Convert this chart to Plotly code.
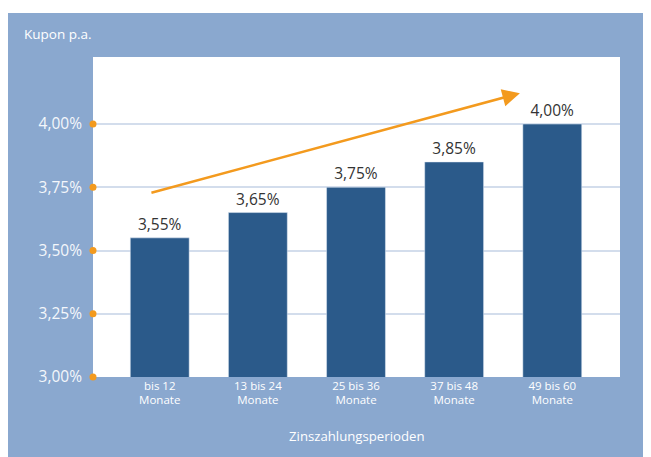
import plotly.graph_objects as go

categories = ["bis 12<br>Monate", "13 bis 24<br>Monate", "25 bis 36<br>Monate", "37 bis 48<br>Monate", "49 bis 60<br>Monate"]
kupon = [3.55, 3.65, 3.75, 3.85, 4.00]
bar_labels = ["3,55%", "3,65%", "3,75%", "3,85%", "4,00%"]
y_ticks = [3.00, 3.25, 3.50, 3.75, 4.00]
y_tick_labels = ["3,00%", "3,25%", "3,50%", "3,75%", "4,00%"]

BLUE_BG = "#8aa8cf"
BAR = "#2b5a8a"
ORANGE = "#f39a1e"
FONT = "Open Sans"

x_idx = list(range(len(categories)))
x_left = -0.68
x_right = 4.69

fig = go.Figure()
fig.add_trace(go.Bar(
    x=x_idx, y=kupon, width=0.6, marker_color=BAR,
    text=bar_labels, textposition="outside",
    textfont=dict(color="#333333", size=15.5, family=FONT),
    cliponaxis=False, showlegend=False, hoverinfo="skip",
))
fig.add_trace(go.Scatter(
    x=[x_left] * len(y_ticks), y=y_ticks, mode="markers",
    marker=dict(color=ORANGE, size=7), cliponaxis=False,
    showlegend=False, hoverinfo="skip",
))

fig.update_layout(
    width=643, height=449,
    margin=dict(l=85, r=31, t=49, b=80),
    paper_bgcolor="white", plot_bgcolor="white",
    font=dict(family=FONT, color="white"),
    bargap=0.4,
    xaxis=dict(
        range=[x_left, x_right], tickmode="array", tickvals=x_idx, ticktext=categories,
        tickfont=dict(size=11.5, color="white", family=FONT), showgrid=False,
        zeroline=False, showline=False, ticks="",
    ),
    yaxis=dict(
        range=[3.0, 4.265], tickmode="array", tickvals=y_ticks, ticktext=y_tick_labels,
        tickfont=dict(size=15.5, color="#f4f7fb", family=FONT),
        showgrid=True, gridcolor="#d3ddec", gridwidth=2, zeroline=False,
        showline=False, ticks="", ticklabelstandoff=10,
    ),
    shapes=[
        dict(type="rect", xref="paper", yref="paper", x0=-0.1613, x1=1.1, y0=-0.3, y1=1.1375,
             fillcolor=BLUE_BG, line=dict(width=0), layer="below"),
        dict(type="rect", xref="paper", yref="paper", x0=0, x1=1, y0=0, y1=1,
             fillcolor="white", line=dict(width=0), layer="below"),
    ],
    annotations=[
        dict(text="Kupon p.a.", xref="paper", yref="paper", x=-0.1347, y=1.072,
             xanchor="left", yanchor="middle", showarrow=False,
             font=dict(size=13.5, color="white", family=FONT)),
        dict(text="Zinszahlungsperioden", xref="paper", yref="paper", x=0.5, y=-0.184,
             xanchor="center", yanchor="middle", showarrow=False,
             font=dict(size=13.2, color="white", family=FONT)),
        dict(x=3.67, y=4.122, ax=-0.10, ay=3.727, xref="x", yref="y", axref="x", ayref="y",
             text="", showarrow=True, arrowhead=2, arrowsize=1.4, arrowwidth=2.5,
             arrowcolor=ORANGE),
    ],
)

fig.write_html("out.html")
